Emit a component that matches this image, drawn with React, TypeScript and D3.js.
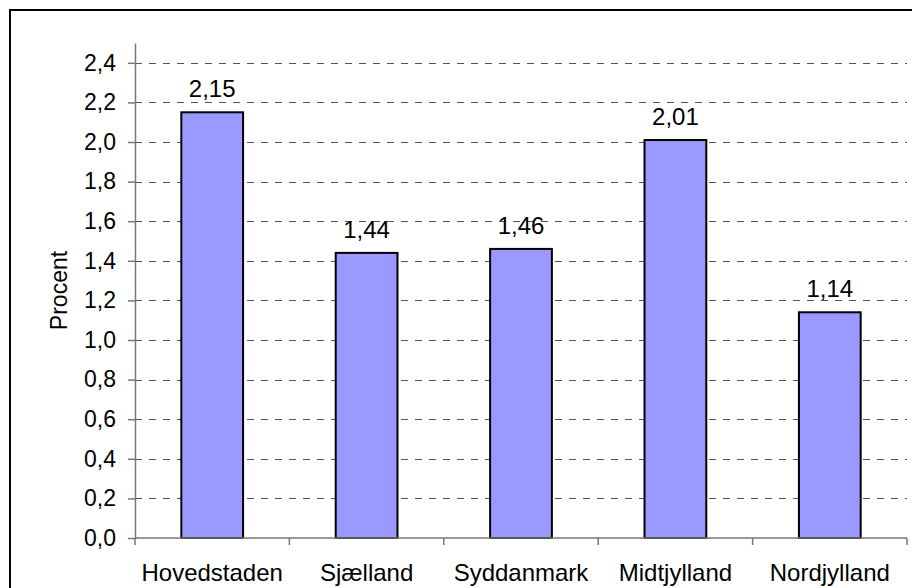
import { useEffect, useRef } from "react";
import * as d3 from "d3";

const regions = ["Hovedstaden", "Sjælland", "Syddanmark", "Midtjylland", "Nordjylland"];
const values = [2.15, 1.44, 1.46, 2.01, 1.14];
const yTicks = [0, 0.2, 0.4, 0.6, 0.8, 1.0, 1.2, 1.4, 1.6, 1.8, 2.0, 2.2, 2.4];
const yLabel = "Procent";

const fmt = (v: number, digits: number) => v.toFixed(digits).replace(".", ",");

export default function App() {
  const svgRef = useRef<SVGSVGElement>(null);
  const width = 912;
  const height = 588;

  useEffect(() => {
    if (!svgRef.current) return;
    const svg = d3.select(svgRef.current);
    svg.selectAll("*").remove();

    const font = "'Liberation Sans', Arial, sans-serif";
    const left = 135;
    const right = 907;
    const top = 43;
    const bottom = 538;

    // outer frame (runs off the right and bottom edge)
    svg
      .append("rect")
      .attr("x", 10)
      .attr("y", 10)
      .attr("width", 920)
      .attr("height", 600)
      .attr("fill", "white")
      .attr("stroke", "black")
      .attr("stroke-width", 2);

    const x = d3.scaleBand().domain(regions).range([left, right]).padding(0);
    const y = d3.scaleLinear().domain([0, 2.5]).range([bottom, top]);

    const g = svg.append("g");

    // gridlines
    g.selectAll(".grid")
      .data(yTicks.filter((t) => t > 0))
      .enter()
      .append("line")
      .attr("x1", left)
      .attr("x2", right)
      .attr("y1", (d) => Math.round(y(d)) + 0.5)
      .attr("y2", (d) => Math.round(y(d)) + 0.5)
      .attr("stroke", "#555")
      .attr("stroke-width", 1.2)
      .attr("stroke-dasharray", "7,7");

    // y axis
    const yAxis = g
      .append("g")
      .attr("transform", `translate(${left},0)`)
      .call(
        d3
          .axisLeft(y)
          .tickValues(yTicks)
          .tickSize(7)
          .tickPadding(12)
          .tickSizeOuter(0)
          .tickFormat((d) => fmt(+d, 1)),
      );
    yAxis.select(".domain").attr("stroke", "#777").attr("stroke-width", 1.5);
    yAxis.selectAll(".tick line").attr("stroke", "#777").attr("stroke-width", 1.5);
    yAxis
      .selectAll("text")
      .style("font-family", font)
      .style("font-size", "23px")
      .attr("fill", "black");

    // bars
    const barW = x.bandwidth() * 0.4;
    g.selectAll(".bar")
      .data(values)
      .enter()
      .append("rect")
      .attr("x", (_d, i) => (x(regions[i]) || 0) + (x.bandwidth() - barW) / 2)
      .attr("y", (d) => y(d))
      .attr("width", barW)
      .attr("height", (d) => y(0) - y(d))
      .attr("fill", "#9999ff")
      .attr("stroke", "black")
      .attr("stroke-width", 2);

    // value labels
    g.selectAll(".val")
      .data(values)
      .enter()
      .append("text")
      .attr("x", (_d, i) => (x(regions[i]) || 0) + x.bandwidth() / 2)
      .attr("y", (d) => y(d) - 15)
      .attr("text-anchor", "middle")
      .style("font-family", font)
      .style("font-size", "24px")
      .text((d) => fmt(d, 2));

    // x axis
    const boundaries = regions.map((r) => x(r) || 0).concat([right]);
    g.append("line")
      .attr("x1", left)
      .attr("x2", right)
      .attr("y1", bottom)
      .attr("y2", bottom)
      .attr("stroke", "#777")
      .attr("stroke-width", 1.5);
    g.selectAll(".xtick")
      .data(boundaries)
      .enter()
      .append("line")
      .attr("x1", (d) => d)
      .attr("x2", (d) => d)
      .attr("y1", bottom)
      .attr("y2", bottom + 7)
      .attr("stroke", "#777")
      .attr("stroke-width", 1.5);
    g.selectAll(".xlabel")
      .data(regions)
      .enter()
      .append("text")
      .attr("x", (d) => (x(d) || 0) + x.bandwidth() / 2)
      .attr("y", 581)
      .attr("text-anchor", "middle")
      .style("font-family", font)
      .style("font-size", "24px")
      .text((d) => d);

    // y label
    svg
      .append("text")
      .attr("transform", `translate(67,${(top + bottom) / 2}) rotate(-90)`)
      .attr("text-anchor", "middle")
      .style("font-family", font)
      .style("font-size", "23px")
      .text(yLabel);
  }, []);

  return (
    <svg
      ref={svgRef}
      width={width}
      height={height}
      viewBox={`0 0 ${width} ${height}`}
      style={{ position: "absolute", left: 0, top: 0, background: "white" }}
    />
  );
}
